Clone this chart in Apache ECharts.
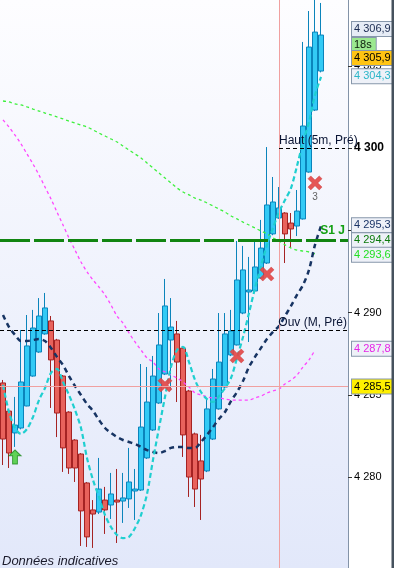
<!DOCTYPE html>
<html><head><meta charset="utf-8">
<script src="https://cdn.jsdelivr.net/npm/echarts@6/dist/echarts.min.js"></script>
<style>html,body{margin:0;padding:0;background:#fff}#c{width:394px;height:568px}</style>
</head><body><div id="c"></div>
<script>
// ---- data ----
const categories = ['p1','p2','p3','p4','p5','p6','p7','p8','p9','p10','p11','p12','p13','p14','p15','p16','p17','p18','p19','p20',
  'p21','p22','p23','p24','p25','p26','p27','p28','p29','p30','p31','p32','p33','p34','p35','p36','p37','p38','p39','p40',
  'p41','p42','p43','p44','p45','p46','p47','p48','p49','p50','p51','p52','p53','p54','p55','p56','p57','p58'];
const open  = [4285.72,4284.01,4282.68,4282.98,4284.32,4286.14,4287.60,4288.70,4289.49,4288.33,4286.14,4283.95,4282.25,4281.40,4279.64,4278.00,4277.87,4278.60,4278.30,4278.60,
  4278.54,4278.67,4279.15,4279.21,4281.16,4282.86,4284.50,4286.26,4288.33,4288.70,4287.84,4285.23,4282.62,4280.98,4280.37,4282.31,4284.14,4285.47,4287.42,4288.03,
  4289.97,4291.25,4291.31,4292.10,4293.01,4294.78,4295.75,4296.05,4295.44,4295.26,4295.69,4298.54,4302.31,4304.68];
const close = [4282.31,4281.46,4283.16,4285.78,4287.97,4289.06,4289.79,4290.28,4287.12,4283.89,4281.77,4280.55,4280.55,4277.94,4276.36,4277.75,4279.27,4278.00,4278.97,4278.48,
  4278.73,4279.70,4279.27,4283.04,4284.56,4286.14,4288.03,4290.40,4289.12,4286.99,4282.56,4280.00,4279.27,4279.88,4284.14,4285.96,4286.99,4288.70,4288.88,4291.98,
  4292.59,4291.37,4292.77,4293.92,4296.54,4296.72,4296.36,4294.78,4295.08,4296.17,4301.34,4306.14,4307.05,4306.87];
const low   = [4280.73,4280.55,4281.83,4282.90,4284.30,4286.10,4287.55,4288.65,4284.20,4282.43,4280.31,4280.19,4279.70,4275.81,4275.75,4275.69,4277.75,4276.54,4277.45,4275.99,
  4277.21,4278.12,4277.39,4279.15,4281.10,4282.80,4284.45,4286.20,4285.29,4284.56,4281.22,4278.79,4278.18,4277.39,4280.30,4282.25,4284.10,4285.40,4287.35,4288.00,
  4289.90,4288.21,4291.25,4292.05,4292.95,4294.70,4295.70,4293.01,4293.92,4294.65,4295.65,4298.50,4302.25,4304.60];
const high  = [4285.90,4284.10,4284.87,4288.94,4289.85,4290.16,4290.88,4291.19,4289.79,4288.40,4286.20,4284.00,4282.30,4281.45,4279.70,4278.60,4281.16,4279.40,4280.25,4280.49,
  4280.25,4281.77,4280.49,4286.87,4286.69,4287.36,4289.97,4292.04,4290.88,4289.49,4287.90,4285.30,4282.70,4282.56,4284.81,4286.57,4289.97,4289.97,4290.16,4294.35,
  4294.05,4293.38,4294.35,4295.63,4300.06,4298.24,4297.63,4296.10,4296.05,4297.45,4306.45,4308.33,4309.20,4308.82];
const maFast = [4285.60,4283.95,4282.98,4282.62,4282.92,4283.65,4284.68,4285.41,4286.33,4286.57,4285.78,4284.99,4284.08,4282.98,4281.16,4279.82,4278.79,4277.69,4276.96,4276.48,
  4276.29,4276.36,4276.90,4277.69,4278.97,4281.04,4282.98,4284.87,4286.69,4287.72,4287.91,4286.99,4285.90,4285.17,4284.74,4284.56,4284.93,4285.41,4286.02,4287.24,
  4288.51,4289.97,4291.49,4292.83,4294.11,4295.14,4296.11,4296.84,4297.57,4298.91,4300.37,4301.58,4303.22,4304.32];
const maSlow = [4289.85,4289.12,4288.64,4288.27,4288.27,4288.33,4288.39,4288.27,4287.85,4287.30,4286.81,4286.14,4285.53,4284.99,4284.44,4284.02,4283.47,4282.98,4282.68,4282.43,
  4282.25,4282.13,4282.01,4281.83,4281.64,4281.52,4281.46,4281.58,4281.77,4281.83,4281.83,4281.77,4281.77,4282.13,4282.56,4283.04,4283.53,4283.95,4284.62,4285.17,
  4285.84,4286.69,4287.30,4287.85,4288.39,4288.82,4289.18,4289.79,4290.40,4291.07,4291.67,4292.59,4294.11,4295.26];
const maPink = [4301.71,4301.28,4300.79,4300.25,4299.64,4299.03,4298.36,4297.63,4296.90,4296.11,4295.32,4294.53,4293.80,4293.07,4292.47,4291.98,4291.55,4291.07,4290.46,4289.79,
  4289.36,4288.76,4288.21,4287.72,4287.24,4286.99,4286.57,4286.39,4286.20,4286.02,4285.78,4285.47,4285.11,4284.99,4284.87,4284.81,4284.81,4284.74,4284.68,4284.68,
  4284.68,4284.68,4284.81,4284.93,4285.11,4285.23,4285.35,4285.66,4285.90,4286.20,4286.69,4287.12,4287.72,null];
const maGreen = [4302.86,4302.80,4302.68,4302.62,4302.50,4302.37,4302.25,4302.13,4302.01,4301.89,4301.77,4301.64,4301.52,4301.40,4301.28,4301.10,4300.91,4300.73,4300.55,4300.37,
  4300.12,4299.88,4299.64,4299.40,4299.09,4298.79,4298.48,4298.18,4297.88,4297.57,4297.33,4297.15,4296.96,4296.84,4296.66,4296.48,4296.29,4296.11,4295.87,4295.69,
  4295.50,4295.32,4295.14,4294.96,4294.78,4294.53,4294.35,4294.11,4293.92,4293.80,4293.74,4293.68,4293.56,null];
const sellIdx = [27, 39, 44, 52];
const sellVal = [4285.60, 4287.36, 4292.34, 4297.88];
const sellCount = ['', '', '', '3'];
const buyIdx = [2];
const buyVal = [4281.22];
const yTicks = [4280, 4285, 4290, 4295, 4300, 4305];
const levelOuv = 4288.94, levelHaut = 4300, levelS1 = 4294.4, levelRef = 4285.5;
const hautStartIdx = 46, vLineIdx = 46;
const boxValues = [4306.9, 4305.9, 4305.9, 4304.3, 4295.3, 4294.4, 4293.6, 4287.8, 4285.5];
const boxTexts  = ['4 306,9', '18s', '4 305,9', '4 304,3', '4 295,3', '4 294,4', '4 293,6', '4 287,8', '4 285,5'];

// ---- presentation ----
const boxStyles = [
  {bg:'#e6ecf6', color:'#1a2a50', dy:-5.5},
  {bg:'#9be88f', color:'#0a1a0a', dy:-6},
  {bg:'#ffc414', color:'#000000', dy:7},
  {bg:'#eef1f8', color:'#2cb6c8', dy:-1},
  {bg:'#eef1f8', color:'#1a3466', dy:0},
  {bg:'#eef1f8', color:'#0b7a0b', dy:0},
  {bg:'#eef1f8', color:'#22e022', dy:1.5},
  {bg:'#eef1f8', color:'#e625e6', dy:0},
  {bg:'#fff000', color:'#000000', dy:0}
];
const FONT = 'Arial, "Liberation Sans", sans-serif';
function fmt(v) {
  const parts = String(v).split('.');
  return parts[0].replace(/\B(?=(\d{3})+(?!\d))/g, ' ') + (parts[1] ? ',' + parts[1] : '');
}
const ohlc = open.map((o, i) => [o, close[i], low[i], high[i]]);
const nulls = categories.map(() => null);

const boxLines = boxValues.map((v, i) => ({
  yAxis: v,
  lineStyle: {color: 'rgba(0,0,0,0)', width: 0},
  label: {
    show: true, position: 'end', distance: 4, formatter: boxTexts[i],
    backgroundColor: boxStyles[i].bg, borderColor: '#8797ab', borderWidth: 1,
    padding: [1, 4, 0, 2], color: boxStyles[i].color, fontSize: 11, fontFamily: FONT,
    lineHeight: 13, offset: [0, boxStyles[i].dy]
  }
}));

const chart = echarts.init(document.getElementById('c'), null, {renderer: 'canvas'});
chart.setOption({
  animation: false,
  backgroundColor: '#ffffff',
  grid: {
    left: 0, right: 46, top: 0, bottom: 0, show: true, borderWidth: 0,
    backgroundColor: new echarts.graphic.LinearGradient(0, 0, 0, 1, [
      {offset: 0, color: '#fdfdff'}, {offset: 1, color: '#e2e8fa'}
    ])
  },
  xAxis: {type: 'category', data: categories, show: false, boundaryGap: true},
  yAxis: {
    type: 'value', position: 'right', min: 4274.47, max: 4309.0, scale: true,
    splitLine: {show: false},
    axisLine: {show: true, lineStyle: {color: '#8393a8', width: 1}},
    axisTick: {show: true, customValues: yTicks, length: 4, lineStyle: {color: '#333'}},
    axisLabel: {
      customValues: yTicks, margin: 6, color: '#000', fontSize: 11, fontFamily: FONT,
      formatter: v => v === 4300 ? '{b|' + fmt(v) + '}' : fmt(v),
      rich: {b: {fontWeight: 'bold', fontSize: 12, fontFamily: FONT, color: '#000'}}
    }
  },
  series: [
    {
      name: 'levels', type: 'line', data: nulls, z: 1, silent: true, showSymbol: false,
      markLine: {
        symbol: 'none', silent: true, animation: false,
        data: [
          {yAxis: levelRef, lineStyle: {color: '#f0a0a0', width: 1, type: 'solid'}, label: {show: false}},
          {xAxis: vLineIdx, lineStyle: {color: '#f0a0a0', width: 1, type: 'solid'}, label: {show: false}},
          {yAxis: levelS1, lineStyle: {color: '#118511', width: 3, type: [30, 4]},
            label: {show: true, position: 'insideEndTop', distance: [3, 3], formatter: 'S1 J', color: '#13a013', fontWeight: 'bold', fontSize: 12, fontFamily: FONT}},
          {yAxis: levelOuv, lineStyle: {color: '#000', width: 1, type: [4, 3]},
            label: {show: true, position: 'insideEndTop', distance: [1, 1], formatter: 'Ouv (M, Pré)', color: '#0a1535', fontSize: 12, fontFamily: FONT}},
          [
            {coord: [hautStartIdx, levelHaut], lineStyle: {color: '#000', width: 1, type: [4, 3]},
              label: {show: true, position: 'insideStartTop', distance: [0, 1], formatter: 'Haut (5m, Pré)', color: '#0a1535', fontSize: 12, fontFamily: FONT}},
            {coord: [categories.length - 1, levelHaut]}
          ]
        ]
      }
    },
    {
      name: 'price', type: 'candlestick', data: ohlc, z: 2, barWidth: 5,
      itemStyle: {color: '#33caf5', color0: '#e8625c', borderColor: '#0b84bb', borderColor0: '#a52323', borderWidth: 1}
    },
    {name: 'ma green', type: 'line', data: maGreen, z: 3, smooth: 0.3, showSymbol: false, silent: true,
      lineStyle: {color: '#3ef03e', width: 1.3, type: [3, 3]}},
    {name: 'ma pink', type: 'line', data: maPink, z: 3, smooth: 0.3, showSymbol: false, silent: true,
      lineStyle: {color: '#ff45ff', width: 1.3, type: [3, 3]}},
    {name: 'ma slow', type: 'line', data: maSlow, z: 3, smooth: 0.3, showSymbol: false, silent: true,
      lineStyle: {color: '#173463', width: 2.5, type: [5, 4]}},
    {name: 'ma fast', type: 'line', data: maFast, z: 3, smooth: 0.3, showSymbol: false, silent: true,
      lineStyle: {color: '#1fcfd0', width: 2.2, type: [5, 3]}},
    {
      name: 'sell', type: 'scatter', z: 4, silent: true,
      symbol: 'path://M2,0 L5,3 L8,0 L10,2 L7,5 L10,8 L8,10 L5,7 L2,10 L0,8 L3,5 L0,2 Z',
      symbolSize: 14,
      itemStyle: {color: '#e34848', borderColor: '#c83a3a', borderWidth: 0.5, opacity: 0.92},
      data: sellIdx.map((x, i) => ({
        value: [x, sellVal[i]],
        label: {show: sellCount[i] !== '', position: 'bottom', distance: 2, formatter: sellCount[i], color: '#555', fontSize: 10, fontFamily: FONT}
      }))
    },
    {
      name: 'buy', type: 'scatter', z: 4, silent: true,
      symbol: 'path://M5,0 L10,5 L7,5 L7,12 L3,12 L3,5 L0,5 Z',
      symbolSize: [12, 14],
      itemStyle: {color: '#3fcc2e', borderColor: '#1f8a1f', borderWidth: 1},
      data: buyIdx.map((x, i) => [x, buyVal[i]])
    },
    {
      name: 'boxes', type: 'line', data: nulls, z: 6, silent: true, showSymbol: false,
      markLine: {symbol: 'none', silent: true, animation: false, data: boxLines}
    }
  ],
  graphic: [
    {type: 'rect', right: 0, top: 0, shape: {width: 2.5, height: 568}, style: {fill: '#46525e'}, z: 100},
    {type: 'text', left: 2, top: 555, style: {text: 'Données indicatives', font: 'italic 13px ' + FONT, fill: '#1a1a2a'}, z: 100}
  ]
});
</script>
</body></html>
